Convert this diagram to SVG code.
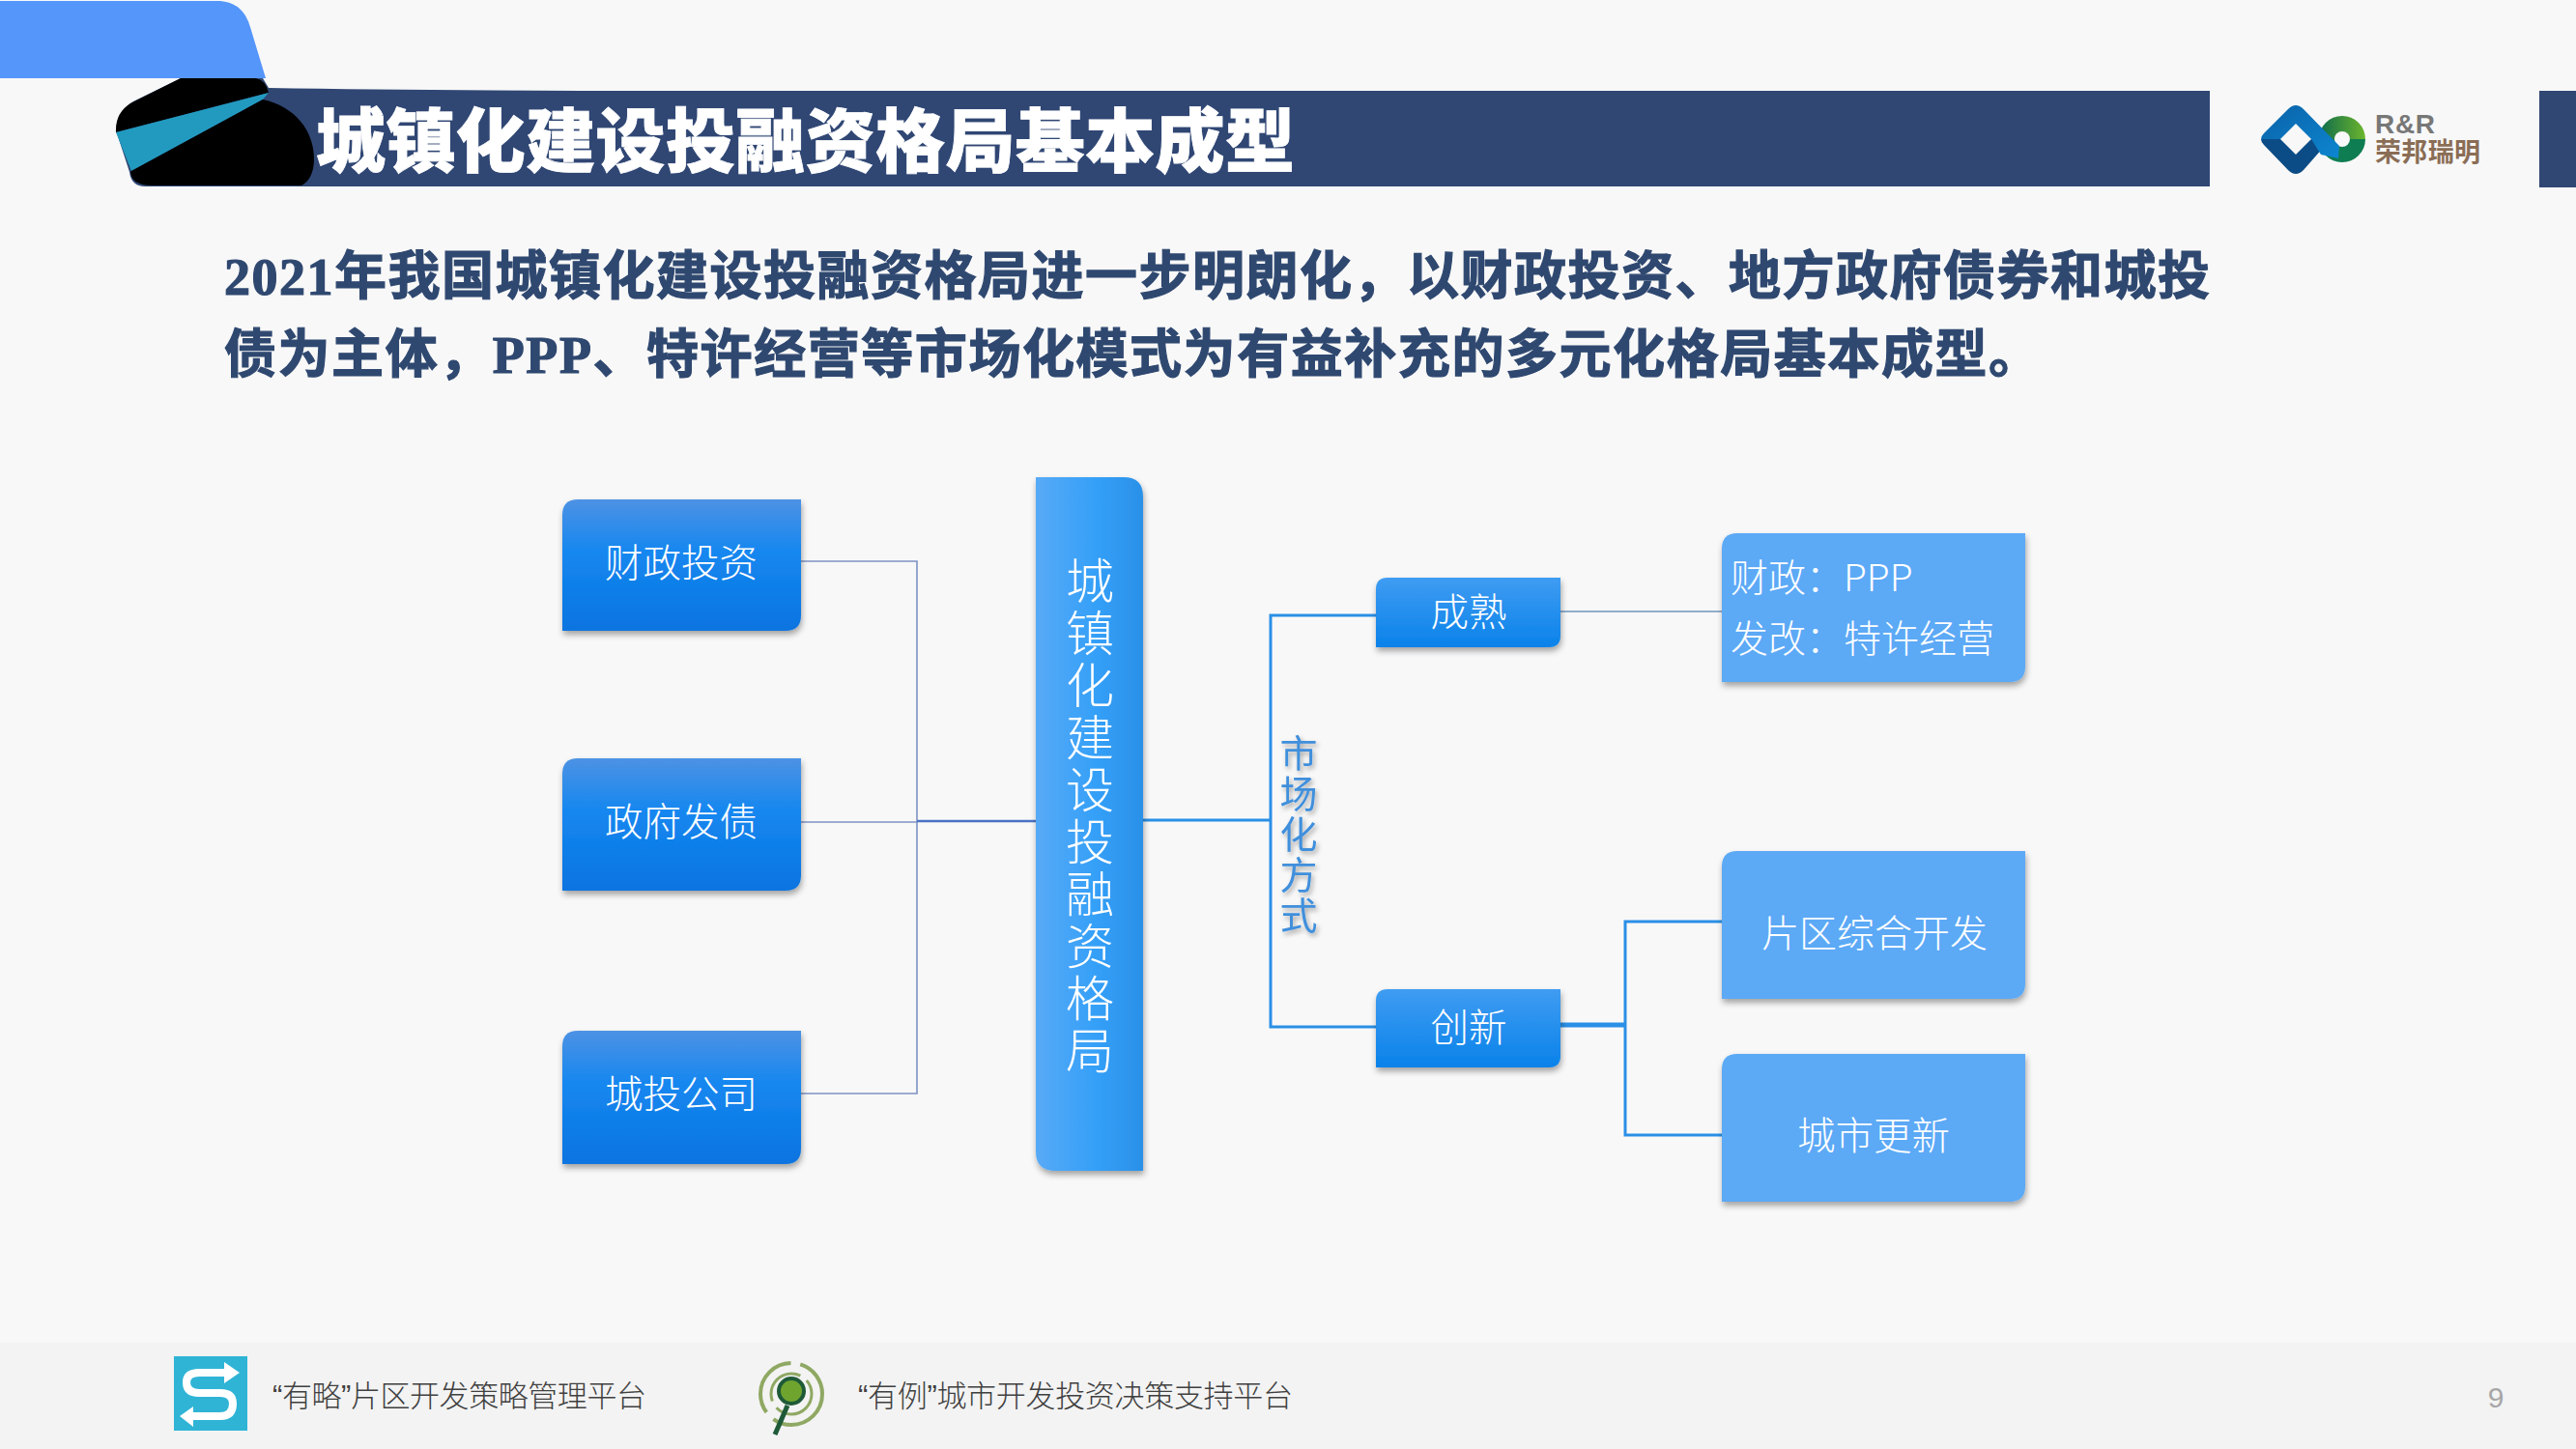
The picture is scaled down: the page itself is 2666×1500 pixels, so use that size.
<svg xmlns="http://www.w3.org/2000/svg" width="2666" height="1500" viewBox="0 0 2666 1500">
<style>
text{font-family:"Noto Sans CJK SC",sans-serif}
.n{fill:#fff;font-size:39.5px;text-anchor:middle;font-weight:300}
.l{fill:#fff;font-size:39px;font-weight:300}
.foot{fill:#404040;font-size:31px;font-weight:300;font-family:"Liberation Sans","Noto Sans CJK SC",sans-serif}
.para{fill:#2f4870;font-size:54px;font-weight:700;stroke:#2f4870;stroke-width:1.2;font-family:"Liberation Serif","Noto Sans CJK SC",serif}
.thin{stroke:#7d93c4;stroke-width:1.6;fill:none}
.blue{stroke:#2a8fe6;stroke-width:3;fill:none}
.dk{fill:url(#gL);filter:url(#sh)}
.lt{fill:#5ba9f6;filter:url(#sh)}
</style>
<defs>
<linearGradient id="gL" x1="0" y1="0" x2="0" y2="1"><stop offset="0" stop-color="#4d92e4"/><stop offset=".4" stop-color="#1587f0"/><stop offset="1" stop-color="#0a74e0"/></linearGradient>
<linearGradient id="gC" x1="0" y1="0" x2="1" y2="0"><stop offset="0" stop-color="#58aaf6"/><stop offset=".55" stop-color="#35a0f8"/><stop offset="1" stop-color="#2a90e8"/></linearGradient>
<linearGradient id="gS" x1="0" y1="0" x2="0" y2="1"><stop offset="0" stop-color="#3f9cf2"/><stop offset="1" stop-color="#0a82ea"/></linearGradient>
<linearGradient id="gG" x1="0" y1="0" x2="1" y2="0"><stop offset="0" stop-color="#0e6b4a"/><stop offset="1" stop-color="#6cb52e"/></linearGradient>
<linearGradient id="gD" x1="0" y1="0" x2="1" y2="1"><stop offset="0" stop-color="#0a62a8"/><stop offset="1" stop-color="#0d86d0"/></linearGradient>
<filter id="sh" x="-10%" y="-10%" width="125%" height="125%"><feDropShadow dx="1" dy="4" stdDeviation="3" flood-color="#000" flood-opacity=".35"/></filter>
<filter id="ts" x="-30%" y="-10%" width="170%" height="120%"><feDropShadow dx="2" dy="3" stdDeviation="2.5" flood-color="#000" flood-opacity=".35"/></filter>
</defs>
<rect width="2666" height="1500" fill="#f8f8f8"/>
<rect y="1390" width="2666" height="110" fill="#f3f3f3"/>

<g id="header">
<path d="M0 1H228Q252 3 259 28L275 81H0Z" fill="#5596fb"/>
<path d="M278 91Q450 94 700 94H2287V193H150Q136 193 134 178L120 135Q122 115 138 105L187 81H272Z" fill="#304774"/>
<path d="M187 81H265Q275 83 278 96L120 137Q119 117 135 107Z" fill="#000"/>
<path d="M120 137L278 96L272 103L136 177Z" fill="#229ac0"/>
<path d="M272 103C305 110 325 135 325 165C325 178 320 188 312 192H158Q136 192 135 178L136 177Z" fill="#000"/>
<text x="327" y="172" font-size="72" font-weight="900" fill="#fff" stroke="#fff" stroke-width=".8" textLength="1013">城镇化建设投融资格局基本成型</text>
<rect x="2628" y="94" width="38" height="100" fill="#304774"/>
</g>

<g id="logo">
<path d="M2424 120a24 24 0 0 1 24 24h-48a24 24 0 0 1 24-24Z" fill="url(#gG)"/>
<path d="M2400 144a24 24 0 0 0 48 0Z" fill="#0f7d52"/>
<circle cx="2424" cy="144" r="8" fill="#f8f8f8"/>
<path d="M2340 144L2412 144L2384 176Q2376 184 2368 176L2343 150Q2340 147 2340 144Z" fill="#0c4c86"/>
<path d="M2368 113Q2376 105 2384 113L2421 151L2420 164L2402 160L2392 144H2340Q2340 141 2343 138Z" fill="url(#gD)"/>
<path d="M2376 128L2392 144L2376 160L2360 144Z" fill="#f8f8f8"/>
<text x="2458" y="138" font-size="28" font-weight="700" fill="#777" style="font-family:'Liberation Sans',sans-serif" textLength="62">R&amp;R</text>
<text x="2458" y="167" font-size="27" font-weight="700" fill="#8a6d55" textLength="109">荣邦瑞明</text>
</g>

<g id="intro">
<text class="para" x="232" y="305" textLength="2055">2021年我国城镇化建设投融资格局进一步明朗化，以财政投资、地方政府债券和城投</text>
<text class="para" x="232" y="386" textLength="1880">债为主体，PPP、特许经营等市场化模式为有益补充的多元化格局基本成型。</text>
</g>

<g id="connectors">
<path class="thin" d="M829 581H949V1132H829M829 851H949"/>
<path d="M949 850H1072" stroke="#4a72c4" stroke-width="2.6" fill="none"/>
<path class="blue" d="M1183 849H1315M1424 637H1315V1063H1424"/>
<path d="M1615 633H1782" stroke="#6f94bd" stroke-width="1.6" fill="none"/>
<path d="M1615 1061H1682" stroke="#2a8fe6" stroke-width="5" fill="none"/>
<path class="blue" d="M1782 954H1682V1175H1782"/>
</g>

<g id="node-caizheng"><path class="dk" d="M598 517H829V637Q829 653 813 653H582V533Q582 517 598 517Z"/><text class="n" x="705" y="597">财政投资</text></g>
<g id="node-zhengfu"><path class="dk" d="M598 785H829V906Q829 922 813 922H582V801Q582 785 598 785Z"/><text class="n" x="705" y="865">政府发债</text></g>
<g id="node-chengtou"><path class="dk" d="M598 1067H829V1189Q829 1205 813 1205H582V1083Q582 1067 598 1067Z"/><text class="n" x="705" y="1147">城投公司</text></g>

<g id="node-center"><path d="M1072 494H1163Q1183 494 1183 514V1212H1092Q1072 1212 1072 1192Z" fill="url(#gC)" filter="url(#sh)"/>
<text x="1128" y="576" font-size="50" font-weight="300" fill="#fff" letter-spacing="4" style="writing-mode:vertical-rl">城镇化建设投融资格局</text></g>

<g id="label-shichang"><text x="1344" y="760" font-size="39" font-weight="400" fill="#3f8fdc" letter-spacing="3" filter="url(#ts)" style="writing-mode:vertical-rl">市场化方式</text></g>

<g id="node-chengshu"><path d="M1436 598H1615V658Q1615 670 1603 670H1424V610Q1424 598 1436 598Z" fill="url(#gS)" filter="url(#sh)"/><text class="n" x="1520" y="648">成熟</text></g>
<g id="node-chuangxin"><path d="M1436 1024H1615V1093Q1615 1105 1603 1105H1424V1036Q1424 1024 1436 1024Z" fill="url(#gS)" filter="url(#sh)"/><text class="n" x="1520" y="1078">创新</text></g>

<g id="node-ppp"><path class="lt" d="M1798 552H2096V690Q2096 706 2080 706H1782V568Q1782 552 1798 552Z"/>
<text class="l" x="1791" y="612">财政：PPP</text><text class="l" x="1791" y="675">发改：特许经营</text></g>
<g id="node-pianqu"><path class="lt" d="M1798 881H2096V1018Q2096 1034 2080 1034H1782V897Q1782 881 1798 881Z"/><text class="n" x="1940" y="980" style="font-size:39px">片区综合开发</text></g>
<g id="node-gengxin"><path class="lt" d="M1798 1091H2096V1228Q2096 1244 2080 1244H1782V1107Q1782 1091 1798 1091Z"/><text class="n" x="1939" y="1190">城市更新</text></g>

<g id="footer">
<rect x="180" y="1404" width="76" height="77" fill="#2fb4d6"/>
<path d="M232 1421H206Q193 1421 193 1431Q193 1442 206 1442H228Q241 1442 241 1453Q241 1466 228 1466H200" fill="none" stroke="#fff" stroke-width="8"/>
<path d="M232 1410L248 1421L232 1432ZM200 1456L186 1466L200 1477Z" fill="#fff"/>
<text class="foot" x="282" y="1456" textLength="387">“有略”片区开发策略管理平台</text>
<g fill="none">
<circle cx="819" cy="1443" r="32" stroke="#8fa863" stroke-width="4" stroke-dasharray="70 10"/>
<circle cx="819" cy="1443" r="21" stroke="#8fa863" stroke-width="3" stroke-dasharray="50 8"/>
</g>
<path d="M815 1455L802 1485" stroke="#1f5a38" stroke-width="5"/>
<circle cx="819" cy="1440" r="13" fill="#6fa52f" stroke="#1f5a38" stroke-width="4"/>
<text class="foot" x="888" y="1456" textLength="450">“有例”城市开发投资决策支持平台</text>
<text x="2583" y="1457" font-size="30" fill="#a6a6a6" text-anchor="middle" style="font-family:'Liberation Sans',sans-serif">9</text>
</g>
</svg>
